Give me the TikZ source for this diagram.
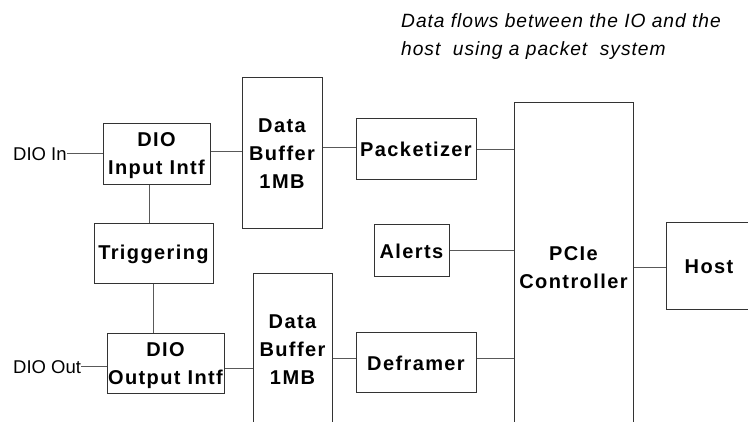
\documentclass[tikz,border=0pt]{standalone}
\usepackage{fontspec}
\setmainfont{Liberation Sans}
\newfontfamily\lblfont[LetterSpace=7]{Liberation Sans}
\newfontfamily\capfont[LetterSpace=5]{Liberation Sans}
\begin{document}
\begin{tikzpicture}[x=1pt,y=-1pt,
  box/.style={draw=black!80, line width=1pt, rectangle, inner sep=0pt, align=center,
    font=\lblfont\bfseries\fontsize{20}{28}\selectfont},
  wire/.style={draw=black!65, line width=1pt},
  side/.style={inner sep=0pt, font=\fontsize{18.5}{22}\selectfont},
  captxt/.style={inner sep=0pt, anchor=base west, font=\capfont\itshape\fontsize{19.2}{28}\selectfont}]
\useasboundingbox (0,0) rectangle (748,422);
\clip (0,0) rectangle (748,422);
\fill[white] (0,0) rectangle (748,422);

\node[captxt] (cap1) at (401,28) {Data flows between the IO and the};
\node[captxt] (cap2) at (401,56) {host\ \ using a packet\ \ system};

\node[box, minimum width=107, minimum height=61] (din) at (156.5,154.5) {\rule{0pt}{17pt}DIO\\Input Intf};
\node[box, minimum width=80, minimum height=151] (buf1) at (282,153.5) {Data\\Buffer\\1MB};
\node[box, minimum width=120, minimum height=61] (pack) at (416,149.5) {Packetizer};
\node[box, minimum width=119, minimum height=60] (trig) at (153.5,254) {Triggering};
\node[box, minimum width=75, minimum height=52] (alerts) at (411.5,251) {Alerts};
\node[box, minimum width=117, minimum height=60] (dout) at (165.5,364) {\rule{0pt}{17pt}DIO\\Output Intf};
\node[box, minimum width=79, minimum height=152] (buf2) at (292.5,350) {Data\\Buffer\\1MB};
\node[box, minimum width=120, minimum height=60] (defr) at (416,363) {Deframer};
\node[box, minimum width=119, minimum height=329] (pcie) at (573.5,267.5) {PCIe\\Controller};
\node[box, minimum width=86, minimum height=87] (host) at (709,266.5) {Host};

\node[side, anchor=west] (dinl) at (13,154) {DIO In};
\node[side, anchor=west] (doutl) at (13,367) {DIO Out};

\draw[wire] (dinl.east) -- (dinl.east -| din.west);
\draw[wire] ([yshift=2.5]din.east) -- ([yshift=2.5]din.east -| buf1.west);
\draw[wire] ([yshift=1.5]pack.west -| buf1.east) -- ([yshift=1.5]pack.west);
\draw[wire] (pack.east) -- (pack.east -| pcie.west);
\draw[wire] (alerts.east) -- (alerts.east -| pcie.west);
\draw[wire] ([yshift=4]defr.east) -- ([yshift=4]defr.east -| pcie.west);
\draw[wire] ([yshift=4]defr.west -| buf2.east) -- ([yshift=4]defr.west);
\draw[wire] ([yshift=-5]dout.east) -- ([yshift=-5]dout.east -| buf2.west);
\draw[wire] (doutl.east) -- (doutl.east -| dout.west);
\draw[wire] ([xshift=-7.5]din.south) -- ([xshift=-7.5]din.south |- trig.north);
\draw[wire] (trig.south) -- (trig.south |- dout.north);
\draw[wire] (pcie.east) -- (pcie.east -| host.west);
\end{tikzpicture}
\end{document}
